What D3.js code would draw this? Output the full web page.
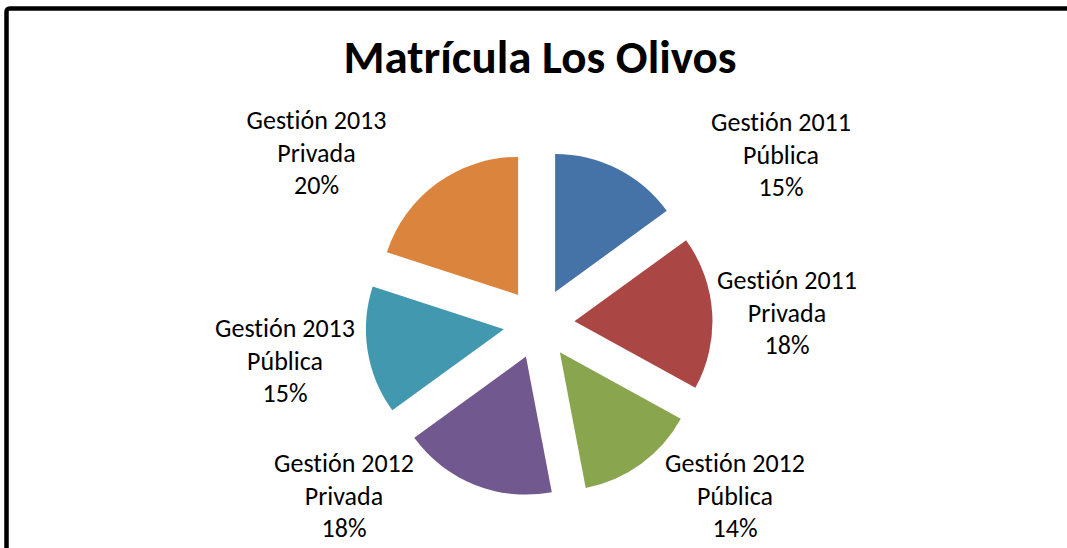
<!DOCTYPE html>
<html>
<head>
<meta charset="utf-8">
<script src="https://cdnjs.cloudflare.com/ajax/libs/d3/7.8.5/d3.min.js"></script>
<style>
  html, body { margin: 0; padding: 0; background: #fff; }
  svg { display: block; }
  text { font-family: Carlito, Calibri, Lato, "Open Sans", sans-serif; fill: #000;
         font-variant-ligatures: none; font-feature-settings: "liga" 0, "clig" 0; }
</style>
</head>
<body>
<svg id="chart" width="1067" height="548"></svg>
<script>
// data
var categories = ["Gestión 2011 Pública", "Gestión 2011 Privada", "Gestión 2012 Pública",
                  "Gestión 2012 Privada", "Gestión 2013 Pública", "Gestión 2013 Privada"];
var labelLines = [["Gestión 2011", "Pública"], ["Gestión 2011", "Privada"], ["Gestión 2012", "Pública"],
                  ["Gestión 2012", "Privada"], ["Gestión 2013", "Pública"], ["Gestión 2013", "Privada"]];
var values = [15, 18, 14, 18, 15, 20];
var colors = ["#4572A7", "#AA4643", "#89A54E", "#71588F", "#4198AF", "#DB843D"];
var title = "Matrícula Los Olivos";

// layout
var W = 1067, H = 548;
var cx = 539, cy = 323.6;
var radius = 138;
var explode = 35.5;
// best-fit label nudges, relative to pie centre
var labelOffset = [[242, -168.6], [248, -10.6], [196, 172.4], [-195, 172.4], [-254, 37.4], [-222.5, -170.6]];
var lineGap = 32.5;

var svg = d3.select("#chart");

// frame (only top and left edge are in view)
svg.append("rect")
  .attr("x", 6.5).attr("y", 8.5)
  .attr("width", W + 20).attr("height", H + 20)
  .attr("rx", 3)
  .attr("fill", "#fff")
  .attr("stroke", "#000")
  .attr("stroke-width", 4.5);

svg.append("text")
  .attr("x", 540).attr("y", 73)
  .attr("text-anchor", "middle")
  .style("font-size", "47px")
  .style("font-weight", "bold")
  .text(title);

var total = d3.sum(values);
var pie = d3.pie().sort(null).value(function(d) { return d; });
var arcs = pie(values);
var arc = d3.arc().innerRadius(0).outerRadius(radius);

var g = svg.append("g").attr("transform", "translate(" + cx + "," + cy + ")");

g.selectAll("path.slice")
  .data(arcs)
  .enter().append("path")
  .attr("class", "slice")
  .attr("d", arc)
  .attr("fill", function(d, i) { return colors[i]; })
  .attr("transform", function(d) {
    var a = (d.startAngle + d.endAngle) / 2;
    return "translate(" + (explode * Math.sin(a)) + "," + (-explode * Math.cos(a)) + ")";
  });

var lbl = g.selectAll("text.lbl")
  .data(arcs)
  .enter().append("text")
  .attr("class", "lbl")
  .attr("text-anchor", "middle")
  .style("font-size", "26px")
  .attr("transform", function(d, i) {
    return "translate(" + labelOffset[i][0] + "," + (labelOffset[i][1] + 8.5) + ")";
  });

lbl.each(function(d, i) {
  var t = d3.select(this);
  var lines = labelLines[i].concat([Math.round(d.data / total * 100) + "%"]);
  lines.forEach(function(s, k) {
    t.append("tspan").attr("x", 0).attr("y", (k - 1) * lineGap).text(s);
  });
});
</script>
</body>
</html>
